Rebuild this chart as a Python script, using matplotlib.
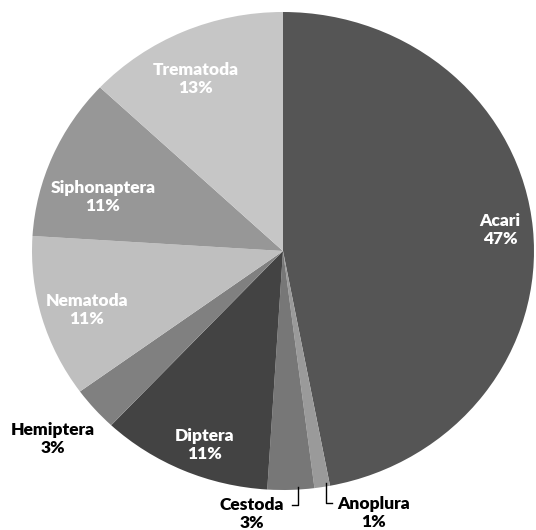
import matplotlib
matplotlib.use("Agg")
import matplotlib.pyplot as plt

categories = ["Acari", "Anoplura", "Cestoda", "Diptera", "Hemiptera",
              "Nematoda", "Siphonaptera", "Trematoda"]
values = [47, 1, 3, 11, 3, 11, 11, 13]
colors = ["#555555", "#9a9a9a", "#777777", "#434343", "#808080",
          "#bfbfbf", "#979797", "#c6c6c6"]

W, H = 536, 530
fig = plt.figure(figsize=(W / 100, H / 100), dpi=100)
ax = fig.add_axes([0, 0, 1, 1])

# pie geometry in pixels
cx, cy, rx, ry = 283, 251, 251, 239

wedges, _ = ax.pie(values, colors=colors, startangle=90, counterclock=False,
                   wedgeprops=dict(linewidth=0))
ax.set_aspect("auto")
ax.set_xlim(-cx / rx, (W - cx) / rx)
ax.set_ylim((cy - H) / ry, cy / ry)
ax.axis("off")

font = dict(family=["Lato", "DejaVu Sans"], fontweight="heavy", fontsize=12.5,
            ha="center", va="center", linespacing=1.2)

# label placements (pixel coordinates, label colour)
label_pos = {
    "Acari": (500, 230, "white"),
    "Anoplura": (374, 513, "black"),
    "Cestoda": (252, 514, "black"),
    "Diptera": (205, 445, "white"),
    "Hemiptera": (53, 439, "black"),
    "Nematoda": (87, 310, "white"),
    "Siphonaptera": (103, 197, "white"),
    "Trematoda": (196, 79, "white"),
}

for cat, val in zip(categories, values):
    x, y, c = label_pos[cat]
    fig.text(x / W, 1 - y / H, f"{cat}\n{val}%", color=c, **font)

def px(x, y):
    return ((x - cx) / rx, (cy - y) / ry)

# leader lines
for pts in ([(298, 487), (298, 505), (292, 505)],
            [(326, 483), (326, 503), (332, 503)]):
    xs, ys = zip(*[px(*p) for p in pts])
    ax.plot(xs, ys, color="black", lw=1, clip_on=False)

fig.savefig("out.png", dpi=100, facecolor="white")
